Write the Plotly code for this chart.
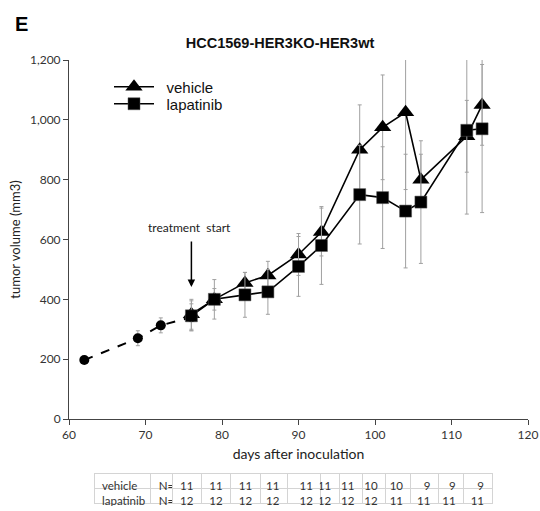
import plotly.graph_objects as go

# ---- data ----
pre_days = [62, 69, 72, 76]
pre_vol = [197, 270, 313, 340]
pre_err = [10, 25, 25, 45]

days = [76, 79, 83, 86, 90, 93, 98, 101, 104, 106, 112, 114]
vehicle = [350, 400, 455, 480, 550, 625, 900, 975, 1025, 800, 945, 1050]
vehicle_err = [50, 36, 35, 47, 70, 80, 150, 175, 258, 85, 120, 135]
lapatinib = [345, 400, 415, 425, 510, 580, 750, 740, 695, 725, 965, 970]
lapatinib_err = [50, 66, 75, 75, 100, 130, 165, 170, 190, 205, 280, 280]

n_vehicle = ["11", "11", "11", "11", "11", "11", "11", "10", "10", "9", "9", "9"]
n_lapatinib = ["12", "12", "12", "12", "12", "12", "12", "12", "11", "11", "11", "11"]

x_ticks = [60, 70, 80, 90, 100, 110, 120]
y_ticks = [0, 200, 400, 600, 800, 1000, 1200]

FONT = "Lato, Liberation Sans, Arial, sans-serif"
ARIAL = "Liberation Sans, Arial, sans-serif"
ERR = dict(type="data", thickness=1, width=2, color="#a0a0a0")

W, H = 540, 511
L, R, T, B = 69, 12, 60, 5
PH = H - T - B


def py(screen_y):
    """screen pixel y -> paper fraction"""
    return (H - B - screen_y) / PH


def px(screen_x):
    return (screen_x - L) / (W - L - R)


fig = go.Figure()

fig.add_trace(go.Scatter(
    x=pre_days, y=pre_vol, mode="lines+markers", showlegend=False,
    line=dict(color="black", width=2, dash="dash"),
    marker=dict(symbol="circle", size=10, color="black"),
    error_y=dict(array=pre_err, **ERR),
))
fig.add_trace(go.Scatter(
    x=days, y=vehicle, mode="lines+markers", name="\u2002vehicle", legend="legend",
    line=dict(color="black", width=1.6),
    marker=dict(symbol="triangle-up", size=15, color="black"),
    error_y=dict(array=vehicle_err, **ERR),
))
fig.add_trace(go.Scatter(
    x=days, y=lapatinib, mode="lines+markers", name="\u2002lapatinib", legend="legend2",
    line=dict(color="black", width=1.6),
    marker=dict(symbol="square", size=12, color="black",
                line=dict(color="#555", width=0.5)),
    error_y=dict(array=lapatinib_err, **ERR),
))

# N table
col_widths = [56, 22, 28, 29, 29, 27, 33, 18, 23, 23, 25, 27, 25, 28]
header_vals = ["vehicle", "N="] + n_vehicle
cell_vals = [["lapatinib"], ["N="]] + [[v] for v in n_lapatinib]
align = ["left", "left"] + ["right"] * len(n_vehicle)
TBL_FONT = dict(family=FONT, size=11.5, color="#333")
fig.add_trace(go.Table(
    domain=dict(x=[px(94), px(492)], y=[0, py(473)]),
    columnwidth=col_widths,
    header=dict(values=header_vals, align=align, height=15,
                fill_color="white", line=dict(color="#d4d4d4", width=1),
                font=TBL_FONT),
    cells=dict(values=cell_vals, align=align, height=15,
               fill_color="white", line=dict(color="#d4d4d4", width=1),
               font=TBL_FONT),
))

LEG = dict(xanchor="left", yanchor="middle",
           font=dict(family=ARIAL, size=15, color="#111"),
           bgcolor="rgba(0,0,0,0)", itemwidth=40)

fig.update_layout(
    width=W, height=H,
    margin=dict(l=L, r=R, t=T, b=B),
    plot_bgcolor="white", paper_bgcolor="white",
    title=dict(text="<b>HCC1569-HER3KO-HER3wt</b>", font=dict(family=ARIAL, size=14.5, color="#111"),
               xref="paper", x=px(280), xanchor="center",
               yref="container", y=1 - 43 / H, yanchor="middle"),
    legend=dict(x=px(109), y=py(87), **LEG),
    legend2=dict(x=px(109), y=py(104), **LEG),
    showlegend=True,
    xaxis=dict(range=[60, 120], tickvals=x_ticks, showgrid=False, zeroline=False,
               showline=True, linecolor="#444", linewidth=1, ticks="outside",
               ticklen=5, tickcolor="#444", automargin=False,
               ticklabeloverflow="allow",
               tickfont=dict(family=FONT, size=12, color="#333"),
               title=dict(text="days after inoculation", standoff=7,
                          font=dict(family=FONT, size=14, color="#222")),
               anchor="y"),
    yaxis=dict(range=[0, 1200], tickvals=y_ticks, tickformat=",d", showgrid=False,
               zeroline=False, domain=[py(419), 1], automargin=False,
               showline=True, linecolor="#444", linewidth=1, ticks="outside",
               ticklen=5, tickcolor="#444",
               tickfont=dict(family=FONT, size=12, color="#333"),
               title=dict(text="tumor volume (mm3)", standoff=6,
                          font=dict(family=FONT, size=13, color="#222"))),
    annotations=[
        dict(text="<b>E</b>", xref="paper", yref="paper", x=px(21),
             y=py(24), xanchor="center", yanchor="middle", showarrow=False,
             font=dict(family=ARIAL, size=20, color="black")),
        dict(text="treatment  start", xref="x", yref="y", x=75.7, y=641,
             xanchor="center", yanchor="middle", showarrow=False,
             font=dict(family=FONT, size=12, color="#222")),
        dict(text="", xref="x", yref="y", x=76, y=441, axref="x", ayref="y",
             ax=76, ay=598, showarrow=True, arrowhead=2, arrowsize=1,
             arrowwidth=1.5, arrowcolor="black"),
    ],
)

fig.write_html("out.html", config={"displayModeBar": False},
               post_script="document.body.style.margin='0';document.body.style.overflow='hidden';")
